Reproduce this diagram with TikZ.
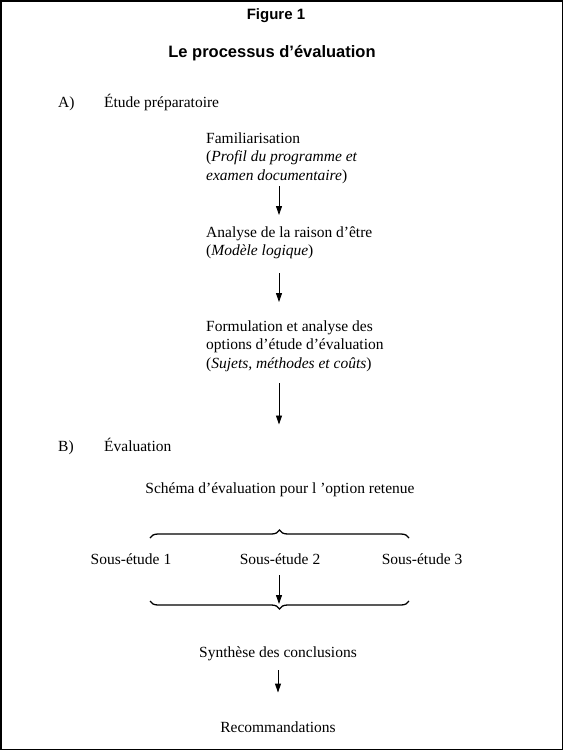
\documentclass[tikz,border=0pt]{standalone}
\usepackage{fontspec}
\setmainfont{Liberation Serif}
\newfontfamily\headfont{Liberation Sans}
\usetikzlibrary{arrows.meta, positioning, decorations.pathreplacing}

\begin{document}
\begin{tikzpicture}[
  x=1pt, y=-1pt,
  txt/.style={font=\fontsize{15.5}{18.5}\selectfont, inner sep=0pt, align=left},
  ctxt/.style={font=\fontsize{15.5}{18.5}\selectfont, inner sep=0pt},
  head/.style={font=\headfont\bfseries\fontsize{#1}{20}\selectfont, inner sep=0pt},
  narr/.style={-{Triangle[length=9pt,width=6pt]}, line width=0.9pt},
  brc/.style={decorate, decoration={brace, amplitude=8pt}, line width=1.3pt},
]
\useasboundingbox (0,0) rectangle (563,750);
\draw[line width=1.5pt] (0.75,0.75) rectangle (562.25,749.25);

% titles
\node[head=15, anchor=base] (fig) at (276,19) {Figure 1};
\node[head=16.5, anchor=base] (title) at (272,57) {Le processus d’évaluation};

% A) preparatory study
\node[txt, anchor=base west] (lblA) at (58,107) {A)};
\node[txt, anchor=base west] (partA) at (104,107) {Étude préparatoire};

\node[txt, anchor=base west] (fam) at (206,180) {Familiarisation\\
  (\textit{Profil du programme et}\\ \textit{examen documentaire})};
\node[txt, anchor=base west] (ana) at (206,255.5) {Analyse de la raison d’être\\
  (\textit{Modèle logique})};
\node[txt, anchor=base west] (form) at (206,368) {Formulation et analyse des\\
  options d’étude d’évaluation\\ (\textit{Sujets, méthodes et coûts})};

% B) evaluation
\node[txt, anchor=base west] (lblB) at (58,451) {B)};
\node[txt, anchor=base west] (partB) at (104,451) {Évaluation};

\node[ctxt, anchor=base] (plan) at (280,493) {Schéma d’évaluation pour l ’option retenue};

\node[ctxt, anchor=base] (sub1) at (131,564) {Sous-étude 1};
\node[ctxt, anchor=base] (sub2) at (280,564) {Sous-étude 2};
\node[ctxt, anchor=base] (sub3) at (422,564) {Sous-étude 3};

\node[ctxt, anchor=base] (synth) at (278,657) {Synthèse des conclusions};
\node[ctxt, anchor=base] (reco) at (278,732) {Recommandations};

\coordinate (axis) at (279,0);
\coordinate (topL) at (150,538);
\coordinate (topR) at (409,538);
\coordinate (botL) at (150,601);
\coordinate (botR) at (409,601);
\coordinate (botTip) at (279,604);

% braces
\draw[brc] (topL) -- (topR);
\draw[brc] (botR) -- (botL);

% arrows
\draw[narr, shorten <=2.5pt, shorten >=11pt] (fam.south -| axis) -- (ana.north -| axis);
\draw[narr, shorten <=14pt, shorten >=18pt] (ana.south -| axis) -- (form.north -| axis);
\draw[narr, shorten <=11.5pt, shorten >=13pt] (form.south -| axis) -- (partB.north -| axis);
\draw[narr, shorten <=11pt] (sub2.south -| axis) -- (botTip);
\draw[narr, shorten <=9.5pt, shorten >=28.5pt] (synth.south) -- (reco.north);

\end{tikzpicture}
\end{document}
